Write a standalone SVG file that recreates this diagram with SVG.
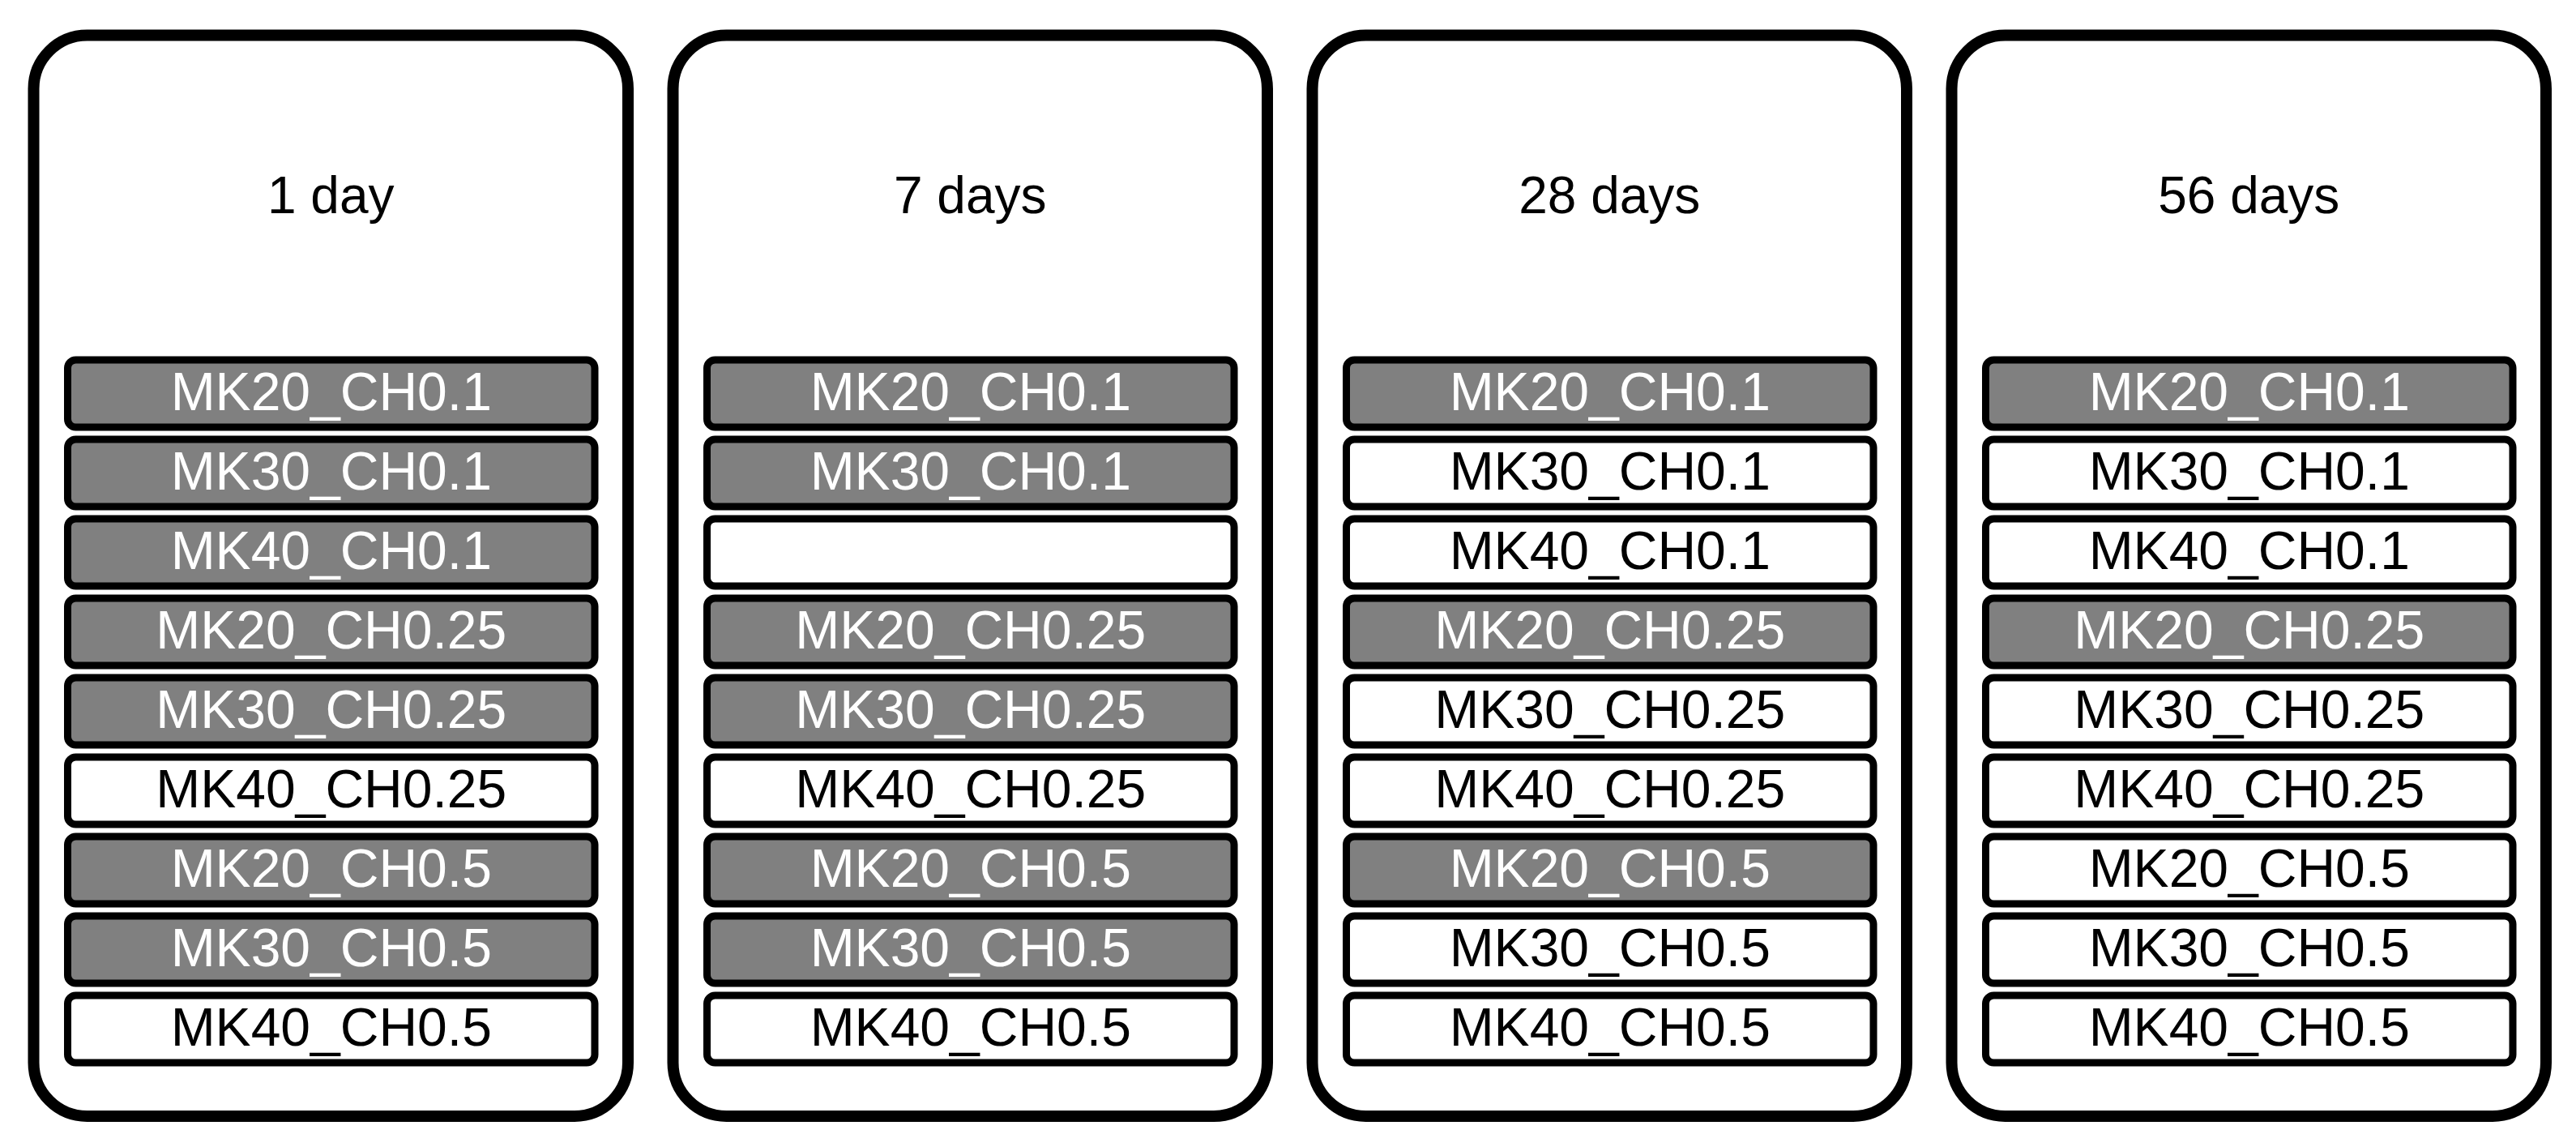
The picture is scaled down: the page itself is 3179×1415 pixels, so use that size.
<svg xmlns="http://www.w3.org/2000/svg" width="3179" height="1415" viewBox="0 0 3179 1415">
<style>
.panel{fill:#ffffff;stroke:#000000;stroke-width:14}
.row{stroke:#000000;stroke-width:9}
.g{fill:#808080}
.w{fill:#ffffff}
.title{font-family:"Liberation Sans",Arial,sans-serif;font-size:64px;fill:#000000;text-anchor:middle}
.lbl{font-family:"Liberation Sans",Arial,sans-serif;font-size:66px;text-anchor:middle}
.lg{fill:#ffffff}
.lw{fill:#000000}
</style>
<rect width="3179" height="1415" fill="#ffffff"/>
<g id="connectors"/>
<g id="panel-1day" transform="translate(41.5,0)">
<rect class="panel" x="0" y="43.5" width="733.5" height="1333.5" rx="66" ry="66"/>
<text class="title" x="366.75" y="263">1 day</text>
<g id="p1r1"><rect class="row g" x="42" y="444" width="650.5" height="83" rx="10"/><text class="lbl lg" x="367.25" y="506">MK20_CH0.1</text></g>
<g id="p1r2"><rect class="row g" x="42" y="542" width="650.5" height="83" rx="10"/><text class="lbl lg" x="367.25" y="604">MK30_CH0.1</text></g>
<g id="p1r3"><rect class="row g" x="42" y="640" width="650.5" height="83" rx="10"/><text class="lbl lg" x="367.25" y="702">MK40_CH0.1</text></g>
<g id="p1r4"><rect class="row g" x="42" y="738" width="650.5" height="83" rx="10"/><text class="lbl lg" x="367.25" y="800">MK20_CH0.25</text></g>
<g id="p1r5"><rect class="row g" x="42" y="836" width="650.5" height="83" rx="10"/><text class="lbl lg" x="367.25" y="898">MK30_CH0.25</text></g>
<g id="p1r6"><rect class="row w" x="42" y="934" width="650.5" height="83" rx="10"/><text class="lbl lw" x="367.25" y="996">MK40_CH0.25</text></g>
<g id="p1r7"><rect class="row g" x="42" y="1032" width="650.5" height="83" rx="10"/><text class="lbl lg" x="367.25" y="1094">MK20_CH0.5</text></g>
<g id="p1r8"><rect class="row g" x="42" y="1130" width="650.5" height="83" rx="10"/><text class="lbl lg" x="367.25" y="1192">MK30_CH0.5</text></g>
<g id="p1r9"><rect class="row w" x="42" y="1228" width="650.5" height="83" rx="10"/><text class="lbl lw" x="367.25" y="1290">MK40_CH0.5</text></g>
</g>
<g id="panel-7days" transform="translate(830.5,0)">
<rect class="panel" x="0" y="43.5" width="733.5" height="1333.5" rx="66" ry="66"/>
<text class="title" x="366.75" y="263">7 days</text>
<g id="p2r1"><rect class="row g" x="42" y="444" width="650.5" height="83" rx="10"/><text class="lbl lg" x="367.25" y="506">MK20_CH0.1</text></g>
<g id="p2r2"><rect class="row g" x="42" y="542" width="650.5" height="83" rx="10"/><text class="lbl lg" x="367.25" y="604">MK30_CH0.1</text></g>
<g id="p2r3"><rect class="row w" x="42" y="640" width="650.5" height="83" rx="10"/></g>
<g id="p2r4"><rect class="row g" x="42" y="738" width="650.5" height="83" rx="10"/><text class="lbl lg" x="367.25" y="800">MK20_CH0.25</text></g>
<g id="p2r5"><rect class="row g" x="42" y="836" width="650.5" height="83" rx="10"/><text class="lbl lg" x="367.25" y="898">MK30_CH0.25</text></g>
<g id="p2r6"><rect class="row w" x="42" y="934" width="650.5" height="83" rx="10"/><text class="lbl lw" x="367.25" y="996">MK40_CH0.25</text></g>
<g id="p2r7"><rect class="row g" x="42" y="1032" width="650.5" height="83" rx="10"/><text class="lbl lg" x="367.25" y="1094">MK20_CH0.5</text></g>
<g id="p2r8"><rect class="row g" x="42" y="1130" width="650.5" height="83" rx="10"/><text class="lbl lg" x="367.25" y="1192">MK30_CH0.5</text></g>
<g id="p2r9"><rect class="row w" x="42" y="1228" width="650.5" height="83" rx="10"/><text class="lbl lw" x="367.25" y="1290">MK40_CH0.5</text></g>
</g>
<g id="panel-28days" transform="translate(1619.5,0)">
<rect class="panel" x="0" y="43.5" width="733.5" height="1333.5" rx="66" ry="66"/>
<text class="title" x="366.75" y="263">28 days</text>
<g id="p3r1"><rect class="row g" x="42" y="444" width="650.5" height="83" rx="10"/><text class="lbl lg" x="367.25" y="506">MK20_CH0.1</text></g>
<g id="p3r2"><rect class="row w" x="42" y="542" width="650.5" height="83" rx="10"/><text class="lbl lw" x="367.25" y="604">MK30_CH0.1</text></g>
<g id="p3r3"><rect class="row w" x="42" y="640" width="650.5" height="83" rx="10"/><text class="lbl lw" x="367.25" y="702">MK40_CH0.1</text></g>
<g id="p3r4"><rect class="row g" x="42" y="738" width="650.5" height="83" rx="10"/><text class="lbl lg" x="367.25" y="800">MK20_CH0.25</text></g>
<g id="p3r5"><rect class="row w" x="42" y="836" width="650.5" height="83" rx="10"/><text class="lbl lw" x="367.25" y="898">MK30_CH0.25</text></g>
<g id="p3r6"><rect class="row w" x="42" y="934" width="650.5" height="83" rx="10"/><text class="lbl lw" x="367.25" y="996">MK40_CH0.25</text></g>
<g id="p3r7"><rect class="row g" x="42" y="1032" width="650.5" height="83" rx="10"/><text class="lbl lg" x="367.25" y="1094">MK20_CH0.5</text></g>
<g id="p3r8"><rect class="row w" x="42" y="1130" width="650.5" height="83" rx="10"/><text class="lbl lw" x="367.25" y="1192">MK30_CH0.5</text></g>
<g id="p3r9"><rect class="row w" x="42" y="1228" width="650.5" height="83" rx="10"/><text class="lbl lw" x="367.25" y="1290">MK40_CH0.5</text></g>
</g>
<g id="panel-56days" transform="translate(2408.5,0)">
<rect class="panel" x="0" y="43.5" width="733.5" height="1333.5" rx="66" ry="66"/>
<text class="title" x="366.75" y="263">56 days</text>
<g id="p4r1"><rect class="row g" x="42" y="444" width="650.5" height="83" rx="10"/><text class="lbl lg" x="367.25" y="506">MK20_CH0.1</text></g>
<g id="p4r2"><rect class="row w" x="42" y="542" width="650.5" height="83" rx="10"/><text class="lbl lw" x="367.25" y="604">MK30_CH0.1</text></g>
<g id="p4r3"><rect class="row w" x="42" y="640" width="650.5" height="83" rx="10"/><text class="lbl lw" x="367.25" y="702">MK40_CH0.1</text></g>
<g id="p4r4"><rect class="row g" x="42" y="738" width="650.5" height="83" rx="10"/><text class="lbl lg" x="367.25" y="800">MK20_CH0.25</text></g>
<g id="p4r5"><rect class="row w" x="42" y="836" width="650.5" height="83" rx="10"/><text class="lbl lw" x="367.25" y="898">MK30_CH0.25</text></g>
<g id="p4r6"><rect class="row w" x="42" y="934" width="650.5" height="83" rx="10"/><text class="lbl lw" x="367.25" y="996">MK40_CH0.25</text></g>
<g id="p4r7"><rect class="row w" x="42" y="1032" width="650.5" height="83" rx="10"/><text class="lbl lw" x="367.25" y="1094">MK20_CH0.5</text></g>
<g id="p4r8"><rect class="row w" x="42" y="1130" width="650.5" height="83" rx="10"/><text class="lbl lw" x="367.25" y="1192">MK30_CH0.5</text></g>
<g id="p4r9"><rect class="row w" x="42" y="1228" width="650.5" height="83" rx="10"/><text class="lbl lw" x="367.25" y="1290">MK40_CH0.5</text></g>
</g>
</svg>
